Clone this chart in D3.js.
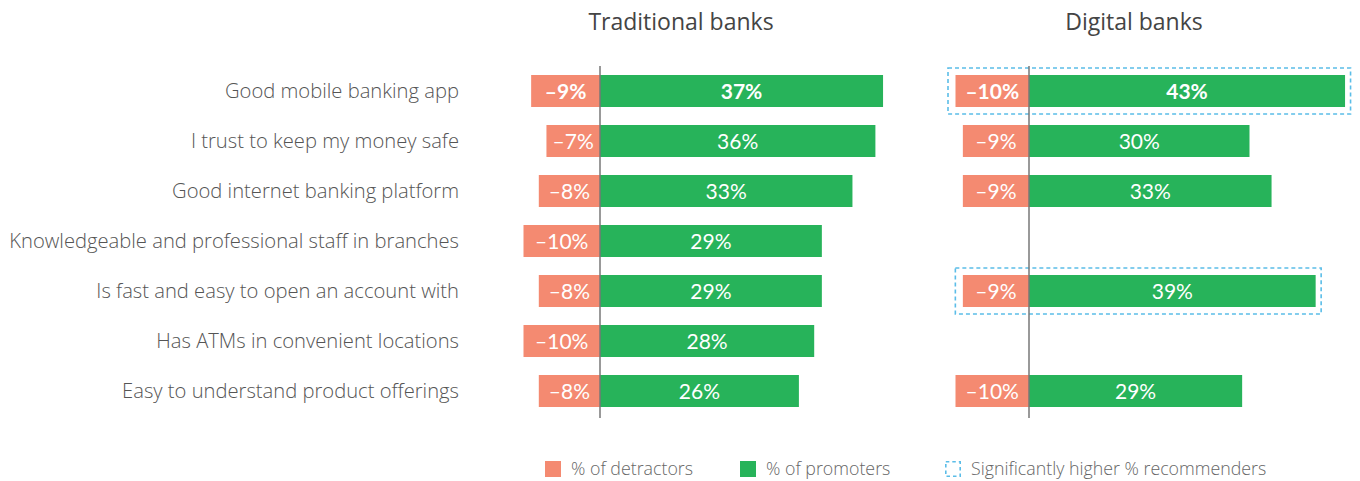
<!DOCTYPE html>
<html>
<head>
<meta charset="utf-8">
<script src="https://cdn.jsdelivr.net/npm/d3@7"></script>
<style>
  html, body { margin: 0; padding: 0; background: #fff; }
  svg { display: block; }
</style>
</head>
<body>
<svg id="chart" width="1360" height="481"></svg>
<script>
// Reasons customers recommend their bank: detractors vs promoters
const categories = [
  "Good mobile banking app",
  "I trust to keep my money safe",
  "Good internet banking platform",
  "Knowledgeable and professional staff in branches",
  "Is fast and easy to open an account with",
  "Has ATMs in convenient locations",
  "Easy to understand product offerings"
];
const panelTitles = ["Traditional banks", "Digital banks"];
const traditionalDetractors = [-9, -7, -8, -10, -8, -10, -8];
const traditionalPromoters  = [37, 36, 33, 29, 29, 28, 26];
const digitalDetractors = [-10, -9, -9, null, -9, null, -10];
const digitalPromoters  = [43, 30, 33, null, 39, null, 29];
// rows where digital banks have a significantly higher share of recommenders
const digitalHighlighted = [true, false, false, false, true, false, false];
const boldRows = [true, false, false, false, false, false, false];
const legendLabels = ["% of detractors", "% of promoters", "Significantly higher % recommenders"];

const COL_DET = "#F48A71";
const COL_PRO = "#27B35A";
const COL_HI = "#5BBDE8";
const LABEL_FONT = "'Open Sans', 'Noto Sans', sans-serif";
const VALUE_FONT = "Lato, 'Noto Sans', sans-serif";

const svg = d3.select("#chart");

const y = d3.scaleBand()
  .domain(categories)
  .range([66, 416])
  .paddingInner(0.36)
  .paddingOuter(0.18);

const fmt = v => (v < 0 ? "\u2013" + Math.abs(v) : String(v)) + "%";

// Category labels
svg.append("g")
  .selectAll("text")
  .data(categories)
  .join("text")
  .attr("x", 459)
  .attr("y", d => y(d) + y.bandwidth() / 2)
  .attr("dy", "0.35em")
  .attr("text-anchor", "end")
  .attr("font-family", LABEL_FONT)
  .attr("font-size", 20.2)
  .attr("font-weight", 300)
  .attr("fill", "#555")
  .text(d => d);

const panels = [
  { title: panelTitles[0], titleX: 681, det: traditionalDetractors, pro: traditionalPromoters,
    hi: categories.map(() => false),
    x: d3.scaleLinear().domain([0, 40]).range([600, 600 + 7.65 * 40]) },
  { title: panelTitles[1], titleX: 1134, det: digitalDetractors, pro: digitalPromoters,
    hi: digitalHighlighted,
    x: d3.scaleLinear().domain([0, 40]).range([1029, 1029 + 7.35 * 40]) }
];

panels.forEach(p => {
  const g = svg.append("g");
  const x = p.x;
  const rows = categories.map((c, i) => ({ c, i, det: p.det[i], pro: p.pro[i], hi: p.hi[i], bold: boldRows[i] }))
    .filter(r => r.det !== null && r.pro !== null);

  g.append("text")
    .attr("x", p.titleX)
    .attr("y", 30)
    .attr("text-anchor", "middle")
    .attr("font-family", LABEL_FONT)
    .attr("font-size", 23)
    .attr("fill", "#444")
    .text(p.title);

  // highlight frames
  g.selectAll("rect.hi")
    .data(rows.filter(r => r.hi))
    .join("rect")
    .attr("class", "hi")
    .attr("x", r => x(r.det) - 7.5)
    .attr("y", r => y(r.c) - 7)
    .attr("width", r => x(r.pro) - x(r.det) + 13)
    .attr("height", y.bandwidth() + 14)
    .attr("fill", "none")
    .attr("stroke", COL_HI)
    .attr("stroke-width", 1.6)
    .attr("stroke-dasharray", "4,3");

  g.selectAll("rect.det")
    .data(rows)
    .join("rect")
    .attr("class", "det")
    .attr("x", r => x(r.det))
    .attr("y", r => y(r.c))
    .attr("width", r => x(0) - x(r.det))
    .attr("height", y.bandwidth())
    .attr("fill", COL_DET);

  g.selectAll("rect.pro")
    .data(rows)
    .join("rect")
    .attr("class", "pro")
    .attr("x", x(0))
    .attr("y", r => y(r.c))
    .attr("width", r => x(r.pro) - x(0))
    .attr("height", y.bandwidth())
    .attr("fill", COL_PRO);

  g.selectAll("text.detv")
    .data(rows)
    .join("text")
    .attr("class", "detv")
    .attr("x", r => (x(r.det) + x(0)) / 2)
    .attr("y", r => y(r.c) + y.bandwidth() / 2)
    .attr("dy", "0.36em")
    .attr("text-anchor", "middle")
    .attr("font-family", VALUE_FONT)
    .attr("font-size", 21)
    .attr("font-weight", r => r.bold ? 700 : 400)
    .attr("fill", "#fff")
    .text(r => fmt(r.det));

  g.selectAll("text.prov")
    .data(rows)
    .join("text")
    .attr("class", "prov")
    .attr("x", r => (x(r.pro) + x(0)) / 2)
    .attr("y", r => y(r.c) + y.bandwidth() / 2)
    .attr("dy", "0.36em")
    .attr("text-anchor", "middle")
    .attr("font-family", VALUE_FONT)
    .attr("font-size", 21)
    .attr("font-weight", r => r.bold ? 700 : 400)
    .attr("fill", "#fff")
    .text(r => fmt(r.pro));

  // zero axis
  g.append("line")
    .attr("x1", x(0)).attr("x2", x(0))
    .attr("y1", 66).attr("y2", 418)
    .attr("stroke", "#777")
    .attr("stroke-width", 1.5);
});

// Legend
const legend = svg.append("g");
const legendItems = [
  { label: legendLabels[0], x: 545, type: "fill", color: COL_DET },
  { label: legendLabels[1], x: 740, type: "fill", color: COL_PRO },
  { label: legendLabels[2], x: 945, type: "dash", color: COL_HI }
];
legendItems.forEach(it => {
  if (it.type === "fill") {
    legend.append("rect")
      .attr("x", it.x).attr("y", 461)
      .attr("width", 16).attr("height", 16)
      .attr("fill", it.color);
  } else {
    legend.append("rect")
      .attr("x", it.x + 0.8).attr("y", 461.8)
      .attr("width", 14.4).attr("height", 14.4)
      .attr("fill", "none")
      .attr("stroke", it.color)
      .attr("stroke-width", 1.6)
      .attr("stroke-dasharray", "3.5,3");
  }
  legend.append("text")
    .attr("x", it.x + 26)
    .attr("y", 469)
    .attr("dy", "0.35em")
    .attr("font-family", LABEL_FONT)
    .attr("font-size", 17.8)
    .attr("font-weight", 300)
    .attr("fill", "#666")
    .text(it.label);
});
</script>
</body>
</html>
